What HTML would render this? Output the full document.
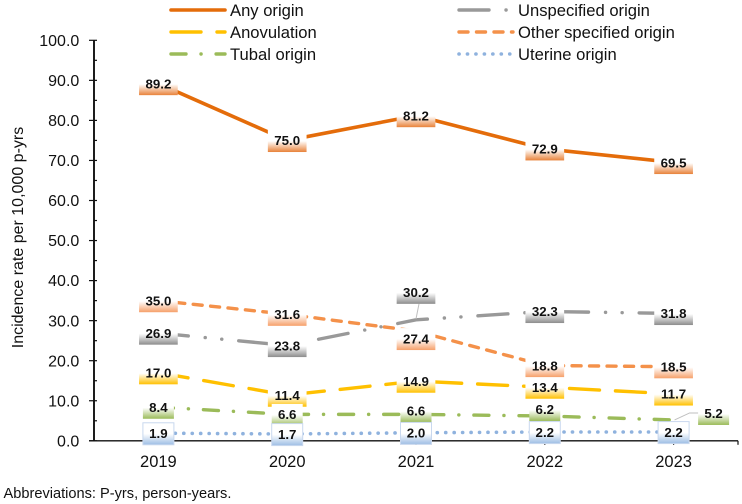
<!DOCTYPE html>
<html>
<head>
<meta charset="utf-8">
<title>Incidence rate chart</title>
<style>
html,body{margin:0;padding:0;background:#fff;}
svg{display:block;font-family:"Liberation Sans",Arial,sans-serif;}
</style>
</head>
<body>
<svg id="chart" width="742" height="504" viewBox="0 0 742 504" xmlns="http://www.w3.org/2000/svg">
<defs id="defs"></defs>
<g id="axes"></g>
<g id="lines"></g>
<g id="labels"></g>
<g id="legend"></g>
<text transform="translate(23,237.5) rotate(-90)" text-anchor="middle" font-size="16" fill="#111">Incidence rate per 10,000 p-yrs</text>
<text x="3.5" y="498" font-size="14.6" fill="#111">Abbreviations: P-yrs, person-years.</text>
</svg>
<script>
const categories = ['2019', '2020', '2021', '2022', '2023'];
const anyOrigin = [89.2, 75.0, 81.2, 72.9, 69.5];
const unspecifiedOrigin = [26.9, 23.8, 30.2, 32.3, 31.8];
const anovulation = [17.0, 11.4, 14.9, 13.4, 11.7];
const otherSpecifiedOrigin = [35.0, 31.6, 27.4, 18.8, 18.5];
const tubalOrigin = [8.4, 6.6, 6.6, 6.2, 5.2];
const uterineOrigin = [1.9, 1.7, 2.0, 2.2, 2.2];
const yTicks = [0, 10, 20, 30, 40, 50, 60, 70, 80, 90, 100];

const NS = 'http://www.w3.org/2000/svg';
const plotLeft = 94, plotRight = 738, plotBottom = 440.8, plotTop = 40.3, yMax = 100;
function xScale(i) { return plotLeft + (plotRight - plotLeft) / categories.length * (i + 0.5); }
function yScale(v) { return plotBottom - (plotBottom - plotTop) * v / yMax; }
function make(tag, attrs, parent) {
  const el = document.createElementNS(NS, tag);
  for (const k in attrs) el.setAttribute(k, attrs[k]);
  parent.appendChild(el);
  return el;
}

const seriesList = [
  { key: 'any-origin', label: 'Any origin', values: anyOrigin, color: '#E46C0A', fill: '#E8823A', dash: '', w: 3.6, cap: 'butt' },
  { key: 'unspecified-origin', label: 'Unspecified origin', values: unspecifiedOrigin, color: '#999999', fill: '#8C8C8C', dash: '30 17 0.1 16.5 0.1 17', w: 3.4, cap: 'round' },
  { key: 'anovulation', label: 'Anovulation', values: anovulation, color: '#FFC000', fill: '#FFC000', dash: '30 16', w: 3.4, cap: 'round' },
  { key: 'other-specified-origin', label: 'Other specified origin', values: otherSpecifiedOrigin, color: '#F4914A', fill: '#F6A06A', dash: '9 8.5', w: 3.4, cap: 'round' },
  { key: 'tubal-origin', label: 'Tubal origin', values: tubalOrigin, color: '#9BBB59', fill: '#9BBB59', dash: '15 15 0.1 15', w: 3.4, cap: 'round' },
  { key: 'uterine-origin', label: 'Uterine origin', values: uterineOrigin, color: '#8FB2DE', fill: '#9DBDE4', dash: '0.1 8.35', w: 3.6, cap: 'round' }
];
/* manually moved labels: series key + category index -> [dx, dy] in pixels */
const moved = {
  'unspecified-origin-2': [0, -27],
  'other-specified-origin-2': [0, 8],
  'tubal-origin-2': [0, -3],
  'tubal-origin-3': [0, -6],
  'tubal-origin-4': [40, -6]
};
const leaderKeys = ['unspecified-origin-2', 'tubal-origin-4'];

const defs = document.getElementById('defs');
const axes = document.getElementById('axes');
const lines = document.getElementById('lines');
const labels = document.getElementById('labels');
const legend = document.getElementById('legend');

/* axes */
const yAxis = make('line', { x1: plotLeft, x2: plotLeft, y1: plotTop, y2: plotBottom, stroke: '#111', 'stroke-width': 1.9 }, axes);


const xAxis = make('line', { x1: plotLeft - 5, x2: plotRight, y1: plotBottom, y2: plotBottom, stroke: '#111', 'stroke-width': 1.4 }, axes);



yTicks.forEach(function (t, i) {
  const y = yScale(t);
  const tick = make('line', { x1: plotLeft - 5, x2: plotLeft + 3, y1: y, y2: y, stroke: '#111', 'stroke-width': 1.2 }, axes);
  
  
  const txt = make('text', { x: plotLeft - 14.7, y: y + 5.6, 'text-anchor': 'end', 'font-size': 16, fill: '#111' }, axes);
  txt.textContent = t.toFixed(1);
  
  
  if (i < yTicks.length - 1) {
    const my = yScale((t + yTicks[i + 1]) / 2);
    const minor = make('line', { x1: plotLeft, x2: plotLeft + 3, y1: my, y2: my, stroke: '#111', 'stroke-width': 1.2 }, axes);
    
    
  }
});
categories.forEach(function (c, i) {
  const x = xScale(i);
  const tick = make('line', { x1: x, x2: x, y1: plotBottom, y2: plotBottom + 4, stroke: '#111', 'stroke-width': 1.2 }, axes);
  
  
  const txt = make('text', { x: x, y: 466.8, 'text-anchor': 'middle', 'font-size': 16.5, fill: '#111' }, axes);
  txt.textContent = c;
  
  
});
const endTick = make('line', { x1: plotRight, x2: plotRight, y1: plotBottom, y2: plotBottom + 4, stroke: '#111', 'stroke-width': 1.2 }, axes);



/* gradients */
seriesList.forEach(function (s) {
  const g = make('linearGradient', { id: 'grad-' + s.key, x1: 0, y1: 0, x2: 0, y2: 1 }, defs);
  make('stop', { offset: '0', 'stop-color': '#fff' }, g);
  make('stop', { offset: '0.5', 'stop-color': '#fff' }, g);
  make('stop', { offset: '1', 'stop-color': s.fill }, g);
});

/* lines */
seriesList.forEach(function (s) {
  const pts = s.values.map(function (v, i) { return xScale(i) + ',' + yScale(v); }).join(' ');
  const line = make('polyline', { points: pts, fill: 'none', stroke: s.color, 'stroke-width': s.w, 'stroke-linecap': s.cap, 'stroke-linejoin': 'round' }, lines);
  if (s.dash) line.setAttribute('stroke-dasharray', s.dash);
  
  
});

/* leader lines */
leaderKeys.forEach(function (k) {
  const s = seriesList.find(function (q) { return k.indexOf(q.key) === 0; });
  const i = Number(k.split('-').pop());
  const shift = moved[k];
  const px = xScale(i), py = yScale(s.values[i]);
  let pts;
  if (shift[0] === 0) {
    pts = px + ',' + (py - 1) + ' ' + (px + shift[0] + 3) + ',' + (py + shift[1] + 11);
  } else {
    pts = (px + 1) + ',' + py + ' ' + (px + 16) + ',' + (py + shift[1] - 1) + ' ' + (px + shift[0] - 15) + ',' + (py + shift[1] - 1);
  }
  const leader = make('polyline', { points: pts, fill: 'none', stroke: '#BFBFBF', 'stroke-width': 1 }, lines);
  
  
});

/* data labels */
seriesList.forEach(function (s) {
  s.values.forEach(function (v, i) {
    const shift = moved[s.key + '-' + i] || [0, 0.6];
    const cx = xScale(i) + shift[0], cy = yScale(v) + shift[1];
    const str = v.toFixed(1);
    const w = str.length > 3 ? 38.7 : 31;
    const attrs = { x: cx - w / 2, y: cy - 11, width: w, height: 22, fill: 'url(#grad-' + s.key + ')' };
    if (s.key === 'uterine-origin') { attrs.stroke = '#C9D8EE'; attrs['stroke-width'] = 1; }
    const box = make('rect', attrs, labels);
    
    
    const t = make('text', { x: cx, y: cy + 4.2, 'text-anchor': 'middle', 'font-size': 13.3, 'font-weight': 'bold', fill: '#111' }, labels);
    t.textContent = str;
    
    
  });
});

/* legend: two columns, three rows, filled row by row */
seriesList.forEach(function (s, i) {
  const col = i % 2, row = Math.floor(i / 2);
  const x0 = col === 0 ? 170 : 458, y = 10 + row * 22;
  const g = make('g', {}, legend);
  
  
  const sample = make('line', { x1: x0 + 1, x2: x0 + 55, y1: y, y2: y, stroke: s.color, 'stroke-width': s.w, 'stroke-linecap': s.cap === 'butt' ? 'round' : s.cap }, g);
  if (s.dash) sample.setAttribute('stroke-dasharray', s.dash);
  
  
  const t = make('text', { x: x0 + 60, y: y + 5.8, 'font-size': 16.6, fill: '#111' }, g);
  t.textContent = s.label;
  
  
});
</script>
</body>
</html>
